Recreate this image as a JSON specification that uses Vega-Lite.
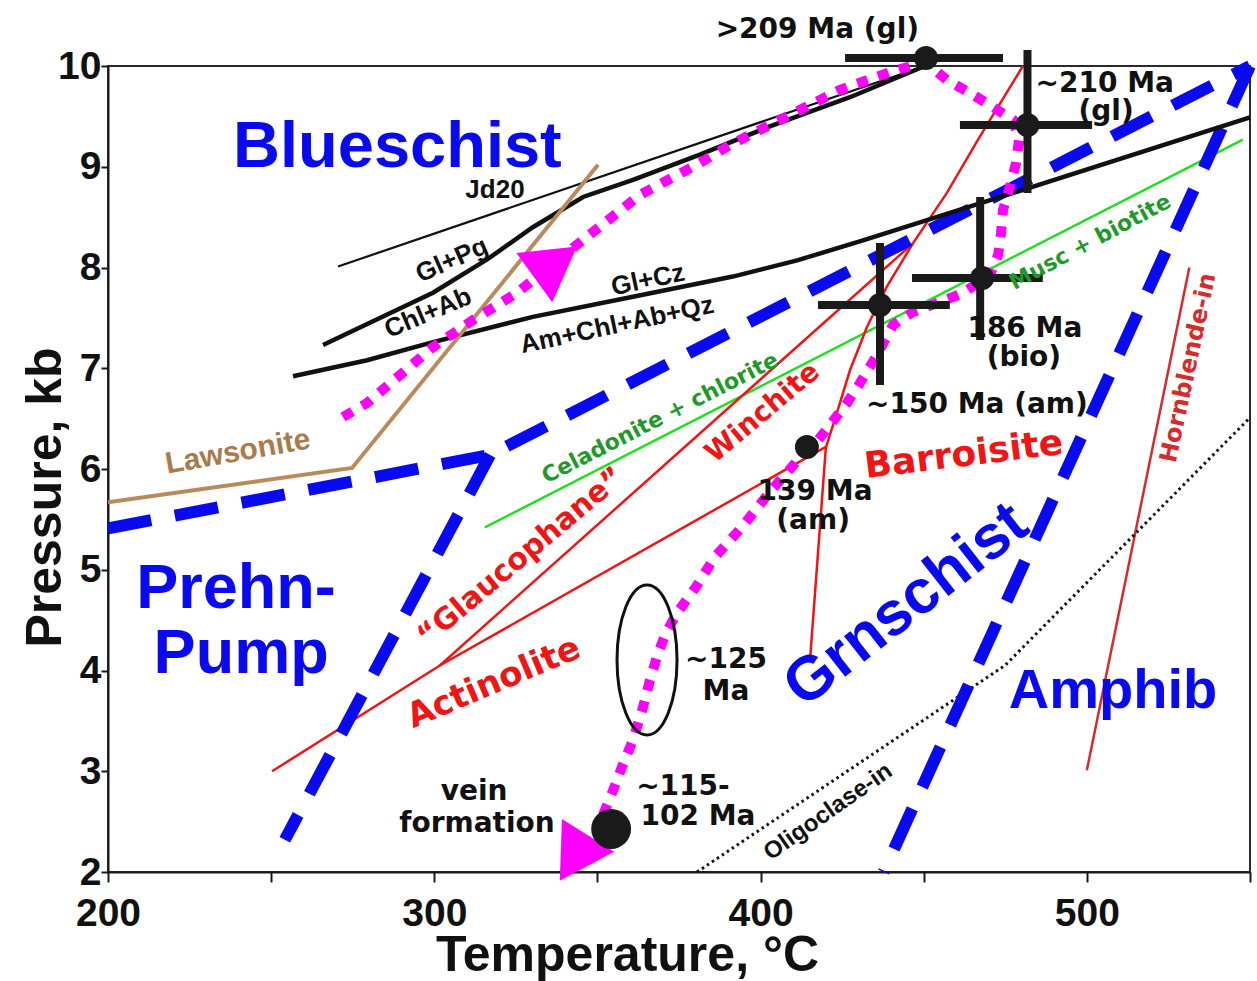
{
  "$schema": "https://vega.github.io/schema/vega-lite/v6.json",
  "width": 1142,
  "height": 806,
  "autosize": {"type": "none"},
  "padding": {"left": 108, "top": 66, "right": 7, "bottom": 109},
  "background": "white",
  "config": {
    "view": {"stroke": "#2a2a2a", "strokeWidth": 2},
    "axis": {
      "domainColor": "#1a1a1a", "domainWidth": 2,
      "tickColor": "#1a1a1a", "tickWidth": 2, "grid": false,
      "labelFont": "Liberation Sans", "labelFontWeight": "bold", "labelFontSize": 39, "labelColor": "#111",
      "titleFont": "Liberation Sans", "titleFontWeight": "bold", "titleFontSize": 50, "titleColor": "#111"
    }
  },
  "encoding": {
    "x": {
      "field": "T", "type": "quantitative",
      "scale": {"domain": [200, 550], "nice": false, "zero": false},
      "axis": {
        "values": [200, 250, 300, 350, 400, 450, 500, 550],
        "labelExpr": "datum.value % 100 === 0 && datum.value < 550 ? datum.label : ''",
        "tickSize": 10, "labelPadding": 43, "labelBaseline": "alphabetic",
        "labelFlush": false, "labelOverlap": false,
        "title": "Temperature, °C", "titleX": 519, "titleY": 98,
        "titleAlign": "center", "titleBaseline": "alphabetic", "titleAnchor": null
      }
    },
    "y": {
      "field": "P", "type": "quantitative",
      "scale": {"domain": [2, 10], "nice": false, "zero": false},
      "axis": {
        "values": [2, 3, 4, 5, 6, 7, 8, 9, 10],
        "tickSize": 7, "labelPadding": 0, "labelFlush": false, "labelOverlap": false,
        "title": "Pressure, kb", "titleAngle": 270, "titleX": -48, "titleY": 431,
        "titleAlign": "center", "titleBaseline": "alphabetic", "titleAnchor": null
      }
    }
  },
  "layer": [
    {
      "data": {"values": [{"T": 315.5, "P": 5.42}, {"T": 547.8, "P": 9.27}]},
      "mark": {"type": "line", "color": "#22dd22", "strokeWidth": 2.5},
      "encoding": {"order": {"value": null}}
    },
    {
      "data": {"values": [
        {"seg": "act", "T": 250.3, "P": 3.0}, {"seg": "act", "T": 301.7, "P": 4.05}, {"seg": "act", "T": 420.0, "P": 6.22},
        {"seg": "gln", "T": 301.7, "P": 4.05}, {"seg": "gln", "T": 446.7, "P": 8.24},
        {"seg": "bar", "T": 415.1, "P": 4.08}, {"seg": "bar", "T": 420.0, "P": 6.21}, {"seg": "bar", "T": 423.7, "P": 6.59},
        {"seg": "bar", "T": 427.4, "P": 6.98}, {"seg": "bar", "T": 432.6, "P": 7.41}, {"seg": "bar", "T": 438.7, "P": 7.81},
        {"seg": "bar", "T": 446.7, "P": 8.24}, {"seg": "bar", "T": 457.1, "P": 8.74}, {"seg": "bar", "T": 467.2, "P": 9.30},
        {"seg": "bar", "T": 480.4, "P": 10.0}
      ]},
      "mark": {"type": "line", "color": "#f01414", "strokeWidth": 2.5},
      "encoding": {"detail": {"field": "seg"}, "order": {"value": null}}
    },
    {
      "data": {"values": [{"T": 500.0, "P": 3.01}, {"T": 531.4, "P": 8.0}]},
      "mark": {"type": "line", "color": "#d82a2a", "strokeWidth": 2.5},
      "encoding": {"order": {"value": null}}
    },
    {
      "data": {"values": [{"T": 380.5, "P": 2.0}, {"T": 474.9, "P": 4.05}, {"T": 550.0, "P": 6.51}]},
      "mark": {"type": "line", "color": "#111", "strokeWidth": 3, "strokeDash": [2.5, 3.5]},
      "encoding": {"order": {"value": null}}
    },
    {
      "data": {"values": [
        {"seg": "bs", "T": 200.0, "P": 5.41}, {"seg": "bs", "T": 317.1, "P": 6.14}, {"seg": "bs", "T": 550.0, "P": 10.0},
        {"seg": "pp", "T": 317.1, "P": 6.14}, {"seg": "pp", "T": 254.2, "P": 2.32},
        {"seg": "am", "T": 550.0, "P": 10.0}, {"seg": "am", "T": 437.7, "P": 2.0}
      ]},
      "mark": {"type": "line", "color": "#0a0af0", "strokeWidth": 12, "strokeDash": [44, 24]},
      "encoding": {"detail": {"field": "seg"}, "order": {"value": null}}
    },
    {
      "data": {"values": [{"T": 270.5, "P": 8.01}, {"T": 450.4, "P": 10.0}]},
      "mark": {"type": "line", "color": "#111", "strokeWidth": 2.2},
      "encoding": {"order": {"value": null}}
    },
    {
      "data": {"values": [
        {"seg": "glpg", "T": 265.9, "P": 7.23}, {"seg": "glpg", "T": 299.6, "P": 7.75}, {"seg": "glpg", "T": 316.2, "P": 8.08},
        {"seg": "glpg", "T": 330.2, "P": 8.40}, {"seg": "glpg", "T": 345.6, "P": 8.70}, {"seg": "glpg", "T": 360.9, "P": 8.87},
        {"seg": "glpg", "T": 381.4, "P": 9.12}, {"seg": "glpg", "T": 402.0, "P": 9.39}, {"seg": "glpg", "T": 427.4, "P": 9.69},
        {"seg": "glpg", "T": 450.4, "P": 10.0},
        {"seg": "glcz", "T": 256.7, "P": 6.92}, {"seg": "glcz", "T": 279.4, "P": 7.08}, {"seg": "glcz", "T": 299.6, "P": 7.26},
        {"seg": "glcz", "T": 330.2, "P": 7.51}, {"seg": "glcz", "T": 360.9, "P": 7.71}, {"seg": "glcz", "T": 391.5, "P": 7.91},
        {"seg": "glcz", "T": 411.2, "P": 8.07}, {"seg": "glcz", "T": 431.4, "P": 8.27}, {"seg": "glcz", "T": 477.4, "P": 8.74},
        {"seg": "glcz", "T": 550.0, "P": 9.49}
      ]},
      "mark": {"type": "line", "color": "#111", "strokeWidth": 4.5},
      "encoding": {"detail": {"field": "seg"}, "order": {"value": null}}
    },
    {
      "data": {"values": [{"T": 200.0, "P": 5.67}, {"T": 274.8, "P": 6.01}, {"T": 350.2, "P": 9.02}]},
      "mark": {"type": "line", "color": "#b88a5c", "strokeWidth": 4},
      "encoding": {"order": {"value": null}}
    },
    {
      "data": {"values": [
        {"T": 272.0, "P": 6.516}, {"T": 279.4, "P": 6.655}, {"T": 299.6, "P": 7.211}, {"T": 311.9, "P": 7.479},
        {"T": 325.3, "P": 7.747}, {"T": 342.5, "P": 8.194}, {"T": 363.0, "P": 8.720}, {"T": 381.4, "P": 9.037},
        {"T": 390.6, "P": 9.216}, {"T": 405.9, "P": 9.464}, {"T": 424.3, "P": 9.762}, {"T": 439.7, "P": 9.940},
        {"T": 450.4, "P": 10.040}, {"T": 457.1, "P": 9.861}, {"T": 464.2, "P": 9.732}, {"T": 471.2, "P": 9.593},
        {"T": 477.4, "P": 9.464}, {"T": 479.2, "P": 9.266}, {"T": 478.3, "P": 9.037}, {"T": 476.4, "P": 8.799},
        {"T": 474.3, "P": 8.571}, {"T": 473.7, "P": 8.342}, {"T": 472.8, "P": 8.124}, {"T": 470.3, "P": 7.926},
        {"T": 462.0, "P": 7.747}, {"T": 455.0, "P": 7.658}, {"T": 446.7, "P": 7.558}, {"T": 440.6, "P": 7.429},
        {"T": 435.7, "P": 7.132}, {"T": 430.5, "P": 6.854}, {"T": 426.5, "P": 6.655}, {"T": 421.3, "P": 6.437},
        {"T": 415.7, "P": 6.208}, {"T": 410.9, "P": 6.069}, {"T": 402.6, "P": 5.762}, {"T": 394.3, "P": 5.424},
        {"T": 386.0, "P": 5.127}, {"T": 380.2, "P": 4.829}, {"T": 374.4, "P": 4.571}, {"T": 371.0, "P": 4.372},
        {"T": 368.6, "P": 4.174}, {"T": 366.1, "P": 3.906}, {"T": 364.0, "P": 3.638}, {"T": 360.9, "P": 3.310},
        {"T": 357.5, "P": 3.042}, {"T": 354.5, "P": 2.784}, {"T": 350.8, "P": 2.496}
      ]},
      "mark": {"type": "line", "color": "#ff00ff", "strokeWidth": 10, "strokeDash": [11, 11]},
      "encoding": {"order": {"value": null}}
    },
    {
      "data": {"values": [{"T": 335.3, "P": 7.916}]},
      "mark": {"type": "point", "shape": "triangle-down", "filled": true, "color": "#ff00ff", "opacity": 1, "size": 3721, "angle": 354}
    },
    {
      "data": {"values": [{"T": 342.8, "P": 2.139}]},
      "mark": {"type": "point", "shape": "triangle-down", "filled": true, "color": "#ff00ff", "opacity": 1, "size": 3800, "angle": 32}
    },
    {
      "data": {"values": [{"T": 365.2, "P": 4.104}]},
      "mark": {"type": "point", "shape": "M-0.4,0A0.4,1,0,1,0,0.4,0A0.4,1,0,1,0,-0.4,0Z", "filled": false, "stroke": "#111", "strokeWidth": 3, "opacity": 1, "size": 22500}
    },
    {
      "data": {"values": [
        {"T": 425.9, "T2": 474.3, "P": 10.08},
        {"T": 461.1, "T2": 501.6, "P": 9.414},
        {"T": 446.4, "T2": 486.5, "P": 7.896},
        {"T": 417.6, "T2": 458.0, "P": 7.628}
      ]},
      "mark": {"type": "rule", "color": "#1a1a1a", "strokeWidth": 8},
      "encoding": {"x2": {"field": "T2"}}
    },
    {
      "data": {"values": [
        {"T": 481.8, "P": 8.739, "P2": 10.159},
        {"T": 467.3, "P": 7.28, "P2": 8.70},
        {"T": 436.6, "P": 6.834, "P2": 8.243}
      ]},
      "mark": {"type": "rule", "color": "#1a1a1a", "strokeWidth": 8},
      "encoding": {"y2": {"field": "P2"}}
    },
    {
      "data": {"values": [
        {"T": 450.7, "P": 10.08}, {"T": 481.8, "P": 9.414}, {"T": 467.9, "P": 7.896},
        {"T": 436.6, "P": 7.628}, {"T": 414.2, "P": 6.218}
      ]},
      "mark": {"type": "point", "shape": "circle", "filled": true, "color": "#1a1a1a", "opacity": 1, "size": 573}
    },
    {
      "data": {"values": [{"T": 354.2, "P": 2.427}]},
      "mark": {"type": "point", "shape": "circle", "filled": true, "color": "#1a1a1a", "opacity": 1, "size": 1590}
    },
    {
      "data": {"values": [
        {"T": 417.4, "P": 10.278, "label": ">209 Ma (gl)"},
        {"T": 505.5, "P": 9.742, "label": "~210 Ma"},
        {"T": 505.9, "P": 9.464, "label": "(gl)"},
        {"T": 481.0, "P": 7.310, "label": "186 Ma"},
        {"T": 480.7, "P": 7.022, "label": "(bio)"},
        {"T": 466.3, "P": 6.556, "label": "~150 Ma (am)"},
        {"T": 416.7, "P": 5.692, "label": "139 Ma"},
        {"T": 416.1, "P": 5.404, "label": "(am)"},
        {"T": 389.4, "P": 4.025, "label": "~125"},
        {"T": 389.4, "P": 3.707, "label": "Ma"},
        {"T": 376.2, "P": 2.764, "label": "~115-"},
        {"T": 380.8, "P": 2.467, "label": "102 Ma"},
        {"T": 312.2, "P": 2.715, "label": "vein"},
        {"T": 313.1, "P": 2.397, "label": "formation"}
      ]},
      "mark": {"type": "text", "font": "DejaVu Sans", "fontWeight": "bold", "fontSize": 28, "color": "#111", "align": "center", "baseline": "alphabetic"},
      "encoding": {"text": {"field": "label"}}
    },
    {
      "data": {"values": [{"T": 288.7, "P": 8.998, "label": "Blueschist"}]},
      "mark": {"type": "text", "font": "Liberation Sans", "fontWeight": "bold", "fontSize": 65, "color": "#0a0af0", "align": "center", "baseline": "alphabetic"},
      "encoding": {"text": {"field": "label"}}
    },
    {
      "data": {"values": [{"T": 239.2, "P": 4.620, "label": "Prehn-"}, {"T": 240.8, "P": 3.975, "label": "Pump"}]},
      "mark": {"type": "text", "font": "Liberation Sans", "fontWeight": "bold", "fontSize": 63, "color": "#0a0af0", "align": "center", "baseline": "alphabetic"},
      "encoding": {"text": {"field": "label"}}
    },
    {
      "data": {"values": [{"T": 508.0, "P": 3.628, "label": "Amphib"}]},
      "mark": {"type": "text", "font": "Liberation Sans", "fontWeight": "bold", "fontSize": 56, "color": "#0a0af0", "align": "center", "baseline": "alphabetic"},
      "encoding": {"text": {"field": "label"}}
    },
    {
      "data": {"values": [{"T": 444.6, "P": 4.650, "label": "Grnschist"}]},
      "mark": {"type": "text", "font": "Liberation Sans", "fontWeight": "bold", "fontSize": 62, "color": "#0a0af0", "align": "center", "baseline": "middle", "angle": 322},
      "encoding": {"text": {"field": "label"}}
    },
    {
      "data": {"values": [{"T": 318.6, "P": 8.690, "label": "Jd20"}]},
      "mark": {"type": "text", "font": "Liberation Sans", "fontWeight": "bold", "fontSize": 26, "color": "#111", "align": "center", "baseline": "alphabetic"},
      "encoding": {"text": {"field": "label"}}
    },
    {
      "data": {"values": [{"T": 305.4, "P": 8.074, "label": "Gl+Pg"}]},
      "mark": {"type": "text", "font": "Liberation Sans", "fontWeight": "bold", "fontSize": 26, "color": "#111", "align": "center", "baseline": "middle", "angle": 336},
      "encoding": {"text": {"field": "label"}}
    },
    {
      "data": {"values": [{"T": 298.1, "P": 7.548, "label": "Chl+Ab"}]},
      "mark": {"type": "text", "font": "Liberation Sans", "fontWeight": "bold", "fontSize": 26, "color": "#111", "align": "center", "baseline": "middle", "angle": 337},
      "encoding": {"text": {"field": "label"}}
    },
    {
      "data": {"values": [{"T": 365.5, "P": 7.876, "label": "Gl+Cz"}, {"T": 356.0, "P": 7.429, "label": "Am+Chl+Ab+Qz"}]},
      "mark": {"type": "text", "font": "Liberation Sans", "fontWeight": "bold", "fontSize": 26, "color": "#111", "align": "center", "baseline": "middle", "angle": 348},
      "encoding": {"text": {"field": "label"}}
    },
    {
      "data": {"values": [{"T": 369.2, "P": 6.506, "label": "Celadonite + chlorite"}]},
      "mark": {"type": "text", "font": "DejaVu Sans", "fontWeight": "bold", "fontSize": 22, "color": "#1f9a2a", "align": "center", "baseline": "middle", "angle": 333},
      "encoding": {"text": {"field": "label"}}
    },
    {
      "data": {"values": [{"T": 501.0, "P": 8.253, "label": "Musc + biotite"}]},
      "mark": {"type": "text", "font": "DejaVu Sans", "fontWeight": "bold", "fontSize": 22, "color": "#1f9a2a", "align": "center", "baseline": "middle", "angle": 332},
      "encoding": {"text": {"field": "label"}}
    },
    {
      "data": {"values": [{"T": 326.6, "P": 5.127, "label": "“Glaucophane”"}]},
      "mark": {"type": "text", "font": "DejaVu Sans", "fontWeight": "bold", "fontSize": 30, "color": "#f01414", "align": "center", "baseline": "middle", "angle": 320},
      "encoding": {"text": {"field": "label"}}
    },
    {
      "data": {"values": [{"T": 400.7, "P": 6.556, "label": "Winchite"}]},
      "mark": {"type": "text", "font": "DejaVu Sans", "fontWeight": "bold", "fontSize": 28, "color": "#f01414", "align": "center", "baseline": "middle", "angle": 320},
      "encoding": {"text": {"field": "label"}}
    },
    {
      "data": {"values": [{"T": 318.3, "P": 3.876, "label": "Actinolite"}]},
      "mark": {"type": "text", "font": "DejaVu Sans", "fontWeight": "bold", "fontSize": 34, "color": "#f01414", "align": "center", "baseline": "middle", "angle": 337},
      "encoding": {"text": {"field": "label"}}
    },
    {
      "data": {"values": [{"T": 462.3, "P": 6.139, "label": "Barroisite"}]},
      "mark": {"type": "text", "font": "DejaVu Sans", "fontWeight": "bold", "fontSize": 36, "color": "#f01414", "align": "center", "baseline": "middle", "angle": 353},
      "encoding": {"text": {"field": "label"}}
    },
    {
      "data": {"values": [{"T": 531.2, "P": 7.003, "label": "Hornblende-in"}]},
      "mark": {"type": "text", "font": "DejaVu Sans", "fontWeight": "bold", "fontSize": 24, "color": "#d82a2a", "align": "center", "baseline": "middle", "angle": 282},
      "encoding": {"text": {"field": "label"}}
    },
    {
      "data": {"values": [{"T": 239.8, "P": 6.169, "label": "Lawsonite"}]},
      "mark": {"type": "text", "font": "Liberation Sans", "fontWeight": "bold", "fontSize": 30, "color": "#a87a4c", "align": "center", "baseline": "middle", "angle": 350},
      "encoding": {"text": {"field": "label"}}
    },
    {
      "data": {"values": [{"T": 420.7, "P": 2.596, "label": "Oligoclase-in"}]},
      "mark": {"type": "text", "font": "Liberation Sans", "fontWeight": "bold", "fontSize": 24, "color": "#111", "align": "center", "baseline": "middle", "angle": 325},
      "encoding": {"text": {"field": "label"}}
    }
  ]
}
